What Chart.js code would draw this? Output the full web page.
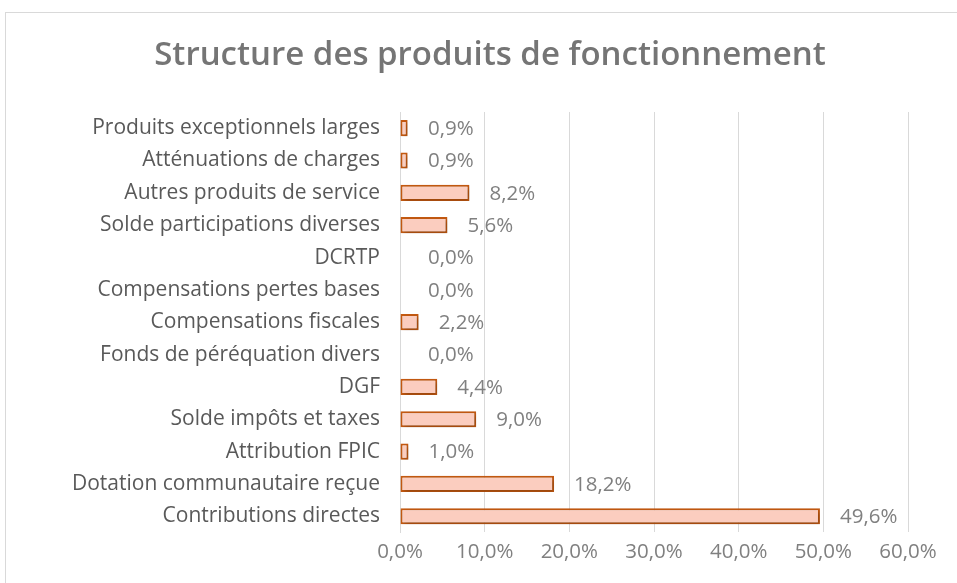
<!DOCTYPE html>
<html>
<head>
<meta charset="utf-8">
<script src="https://cdn.jsdelivr.net/npm/chart.js@4"></script>
<style>
  body { margin: 0; background: #fff; overflow: hidden; }
  #wrap { position: relative; width: 957px; height: 583px; }
  #frame { position: absolute; left: 5px; top: 12px; width: 1000px; height: 1000px; border: 1px solid #d9d9d9; box-sizing: border-box; }
  canvas { position: absolute; left: 0; top: 0; }
</style>
</head>
<body>
<div id="wrap">
  <div id="frame"></div>
  <canvas id="chart" width="957" height="583"></canvas>
</div>
<script>
// Categories, top to bottom
const categories = [
  "Produits exceptionnels larges",
  "Atténuations de charges",
  "Autres produits de service",
  "Solde participations diverses",
  "DCRTP",
  "Compensations pertes bases",
  "Compensations fiscales",
  "Fonds de péréquation divers",
  "DGF",
  "Solde impôts et taxes",
  "Attribution FPIC",
  "Dotation communautaire reçue",
  "Contributions directes",
];

// Share of operating revenue, in %
const shares = [0.9, 0.9, 8.2, 5.6, 0.0, 0.0, 2.2, 0.0, 4.4, 9.0, 1.0, 18.2, 49.6];

const xTicks = [0, 10, 20, 30, 40, 50, 60];

const titleText = "Structure des produits de fonctionnement";

const fontFamily = "'Open Sans', 'DejaVu Sans', sans-serif";

function pct(v) {
  return v.toFixed(1).replace(".", ",") + "%";
}

// Title drawn by hand so it sits where the original has it
const chartTitle = {
  id: "chartTitle",
  afterDraw(chart) {
    const ctx = chart.ctx;
    ctx.save();
    ctx.font = "600 33px " + fontFamily;
    ctx.fillStyle = "#757575";
    ctx.textAlign = "center";
    ctx.textBaseline = "middle";
    ctx.fillText(titleText, 490, 56);
    ctx.restore();
  },
};

// Light shadow under the bars, like the original
const barShadow = {
  id: "barShadow",
  beforeDatasetsDraw(chart) {
    const ctx = chart.ctx;
    ctx.save();
    ctx.shadowColor = "rgba(0,0,0,0.25)";
    ctx.shadowBlur = 4;
    ctx.shadowOffsetX = 2;
    ctx.shadowOffsetY = 2;
  },
  afterDatasetsDraw(chart) {
    chart.ctx.restore();
  },
};

// Value labels at the end of each bar
const valueLabels = {
  id: "valueLabels",
  afterDatasetsDraw(chart) {
    const ctx = chart.ctx;
    const meta = chart.getDatasetMeta(0);
    ctx.save();
    ctx.font = "20.5px " + fontFamily;
    ctx.fillStyle = "#808080";
    ctx.textAlign = "left";
    ctx.textBaseline = "middle";
    meta.data.forEach(function (bar, i) {
      const x = Math.max(bar.x + 20, chart.scales.x.left + 28);
      ctx.fillText(pct(shares[i]), x, bar.y + 1);
    });
    ctx.restore();
  },
};

const ctx = document.getElementById("chart").getContext("2d");

new Chart(ctx, {
  type: "bar",
  data: {
    labels: categories,
    datasets: [
      {
        data: shares,
        backgroundColor: "#fbcdbf",
        borderColor: "#c55a11",
        borderWidth: 2,
        borderSkipped: false,
        barPercentage: 0.5,
        categoryPercentage: 1,
      },
    ],
  },
  plugins: [barShadow, valueLabels, chartTitle],
  options: {
    indexAxis: "y",
    responsive: false,
    animation: false,
    layout: {
      padding: { left: 0, right: 49, top: 112, bottom: 12 },
    },
    plugins: {
      legend: { display: false },
      tooltip: { enabled: false },
      title: { display: false },
    },
    scales: {
      x: {
        min: 0,
        max: 60,
        afterBuildTicks: function (axis) {
          axis.ticks = xTicks.map(function (v) { return { value: v }; });
        },
        ticks: {
          color: "#808080",
          font: { family: fontFamily, size: 20.5 },
          padding: 7,
          maxRotation: 0,
          callback: function (v) { return pct(v); },
        },
        grid: { color: "#d9d9d9", lineWidth: 1, drawTicks: false },
        border: { display: false },
      },
      y: {
        afterFit: function (axis) { axis.width = 400; },
        ticks: {
          color: "#595959",
          font: { family: fontFamily, size: 21 },
          padding: 20,
        },
        grid: { display: false, drawTicks: false },
        border: { display: true, color: "#d9d9d9" },
      },
    },
  },
});
</script>
</body>
</html>
